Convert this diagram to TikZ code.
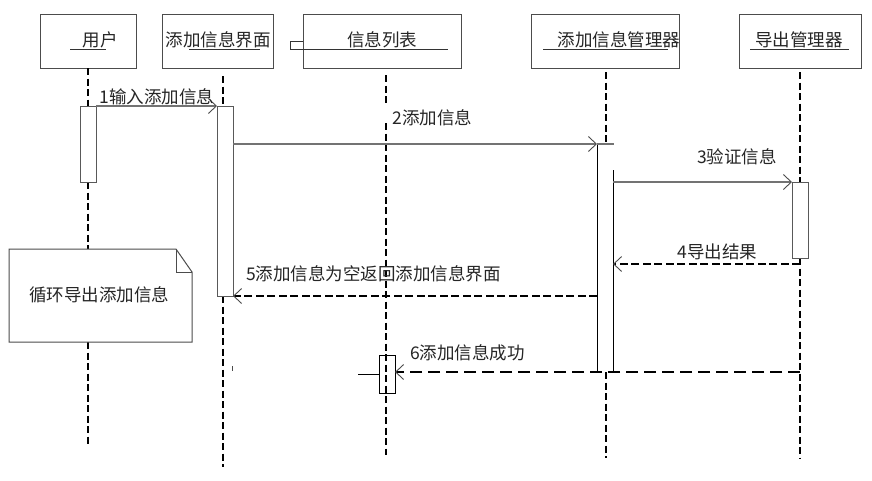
\documentclass[tikz,border=0pt]{standalone}
\usepackage{fontspec}
\setmainfont{Noto Sans CJK SC}
\usetikzlibrary{arrows.meta}
\begin{document}
\begin{tikzpicture}[x=1pt,y=-1pt,
  hdr/.style={draw=black!70,line width=1pt,rectangle,minimum height=54pt,inner sep=0pt},
  txt/.style={font=\fontsize{17.5}{20}\selectfont,inner sep=0pt,text=black!85},
  uline/.style={draw=black!80,line width=0.8pt},
  life/.style={draw=black,line width=1.6pt,dash pattern=on 7pt off 3.5pt},
  actbox/.style={draw=black!65,line width=1pt,fill=white},
  actline/.style={draw=black,line width=1pt},
  tip/.style={-{Straight Barb[length=8pt,width=15pt,line width=0.9pt,color=black!70]}},
  msg/.style={draw=black!55,line width=1.2pt,tip},
  ret/.style={draw=black,line width=1.6pt,dash pattern=on 8pt off 3.5pt,tip},
  retbold/.style={draw=black,line width=2.4pt,dash pattern=on 12pt off 6pt,tip},
  notebox/.style={draw=black!70,line width=1pt,fill=white}]
\useasboundingbox (0,0) rectangle (872,480);
\fill[white] (0,0) rectangle (872,480);

% header boxes
\node[hdr,minimum width=96pt]  (u)    at (88,41)    {};
\node[hdr,minimum width=111pt] (ui)   at (217.5,41) {};
\node[hdr,minimum width=158pt] (list) at (382,41)   {};
\node[hdr,minimum width=148pt] (mgr)  at (605,41)   {};
\node[hdr,minimum width=122pt] (exp)  at (800,41)   {};

\node[txt] (tu)    at (100,40) {用户};
\node[txt] (tui)   at (218,40) {添加信息界面};
\node[txt] (tlist) at (382,40) {信息列表};
\node[txt] (tmgr)  at (619,40) {添加信息管理器};
\node[txt] (texp)  at (799,40) {导出管理器};

\draw[uline] (70,49) -- (106,49);
\draw[uline] (189,49) -- (260,49);
\draw[uline] (303,41) -- (290,41) -- (290,49) -- (448,49);
\draw[uline] (543,49) -- (668,49);
\draw[uline] (750,49) -- (849,49);

% lifelines
\coordinate (u1) at (88,68);   \coordinate (u2) at (88,106);
\coordinate (u3) at (88,182);  \coordinate (u4) at (88,249);
\coordinate (u5) at (88,342);  \coordinate (u6) at (88,447);
\draw[life] (u1) -- (u2);
\draw[life] (u3) -- (u4);
\draw[life] (u5) -- (u6);

\coordinate (i1) at (223,76);  \coordinate (i2) at (223,106);
\coordinate (i3) at (223,296); \coordinate (i4) at (223,467);
\draw[life] (i1) -- (i2);
\draw[life] (i3) -- (i4);

\coordinate (l1) at (386,75);  \coordinate (l2) at (386,104);
\coordinate (l3) at (386,123); \coordinate (l4) at (386,455);

\coordinate (m1) at (606,72);  \coordinate (m2) at (606,144);
\coordinate (m3) at (606,372); \coordinate (m4) at (606,458);
\draw[life] (m1) -- (m2);
\draw[life] (m3) -- (m4);

\coordinate (e1) at (800,72);  \coordinate (e2) at (800,182);
\coordinate (e3) at (800,258); \coordinate (e4) at (800,458);
\draw[life] (e1) -- (e2);
\draw[life] (e3) -- (e4);

% activations
\draw[actbox] (80,106) rectangle (96,182);
\draw[actbox] (217,106) rectangle (233,296);
\draw[actbox] (792,182) rectangle (808,258);
\draw[actline] (597,144) -- (597,372);
\draw[actline] (613,170) -- (613,372);
\draw[draw=black!55,line width=1.2pt] (597,144) -- (614,144);
\draw[actline] (379,355) rectangle (395,393);
\draw[actline] (358,374) -- (379,374);
\draw[life,line width=1.3pt] (l1) -- (l2);
\draw[life,line width=1.3pt] (l3) -- (l4);

% note
\draw[notebox] (9,249) -- (176,249) -- (192,272) -- (192,342) -- (9,342) -- cycle;
\draw[draw=black!70,line width=1pt] (176,249) -- (176,272) -- (192,272);
\node[txt] (note) at (99,295) {循环导出添加信息};

% message endpoints
\coordinate (a1s) at (96,106);  \coordinate (a1e) at (217,106);
\coordinate (a2s) at (233,144); \coordinate (a2e) at (597,144);
\coordinate (a3s) at (613,182); \coordinate (a3e) at (792,182);
\coordinate (a4s) at (800,264); \coordinate (a4e) at (613,264);
\coordinate (a5s) at (597,296); \coordinate (a5e) at (233,296);
\coordinate (a6s) at (800,372); \coordinate (a6e) at (395,372);

\draw[msg] (a1s) -- (a1e);
\draw[msg] (a2s) -- (a2e);
\draw[msg] (a3s) -- (a3e);
\draw[ret] (a4s) -- (a4e);
\draw[ret] (a5s) -- (a5e);
\draw[retbold] (a6s) -- (a6e);

% labels
\node[txt] (m1l) at (157,97)   {1输入添加信息};
\node[txt] (m2l) at (432.5,118) {2添加信息};
\node[txt] (m3l) at (737,157)  {3验证信息};
\node[txt] (m4l) at (717.5,252) {4导出结果};
\node[txt] (m5l) at (373.5,274) {5添加信息为空返回添加信息界面};
\node[txt] (m6l) at (467.5,353) {6添加信息成功};

% stray tick
\draw[black!70,line width=0.8pt] (232,366) -- (232,371);
\end{tikzpicture}
\end{document}
